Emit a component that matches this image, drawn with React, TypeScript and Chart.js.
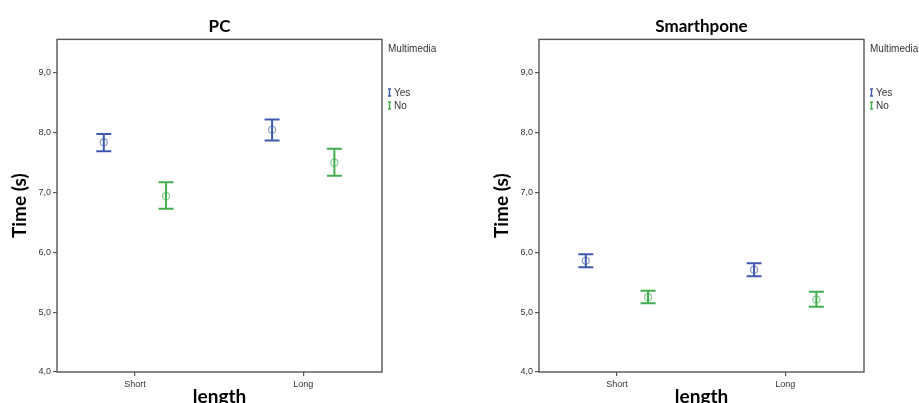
import React, { useEffect, useRef } from "react";
import { Chart, registerables } from "chart.js";

Chart.register(...registerables);

// ---------- data ----------
const CATEGORIES = ["Short", "Long"];
const SERIES_NAMES = ["Yes", "No"];
const LEGEND_TITLE = "Multimedia";

const PC_YES_MEAN = [7.84, 8.05];
const PC_YES_LOW = [7.69, 7.87];
const PC_YES_HIGH = [7.98, 8.22];
const PC_NO_MEAN = [6.94, 7.5];
const PC_NO_LOW = [6.73, 7.28];
const PC_NO_HIGH = [7.17, 7.73];

const SP_YES_MEAN = [5.86, 5.71];
const SP_YES_LOW = [5.75, 5.6];
const SP_YES_HIGH = [5.97, 5.82];
const SP_NO_MEAN = [5.25, 5.21];
const SP_NO_LOW = [5.15, 5.09];
const SP_NO_HIGH = [5.36, 5.34];

const Y_MIN = 4;
const Y_MAX = 9.56;
const Y_STEP = 1;

// ---------- styles ----------
const BLUE = "#3f58ad";
const GREEN = "#43ad4d";
const DODGE = 0.185;
const BOX = "#555555";
const TEXT = "#333333";
const TICK_FONT = { family: "'Liberation Sans', Arial, sans-serif", size: 9 };
const BOLD_FAMILY = "Lato, 'Open Sans', sans-serif";

const errorBarPlugin = {
  id: "errorBars",
  beforeDatasetsDraw(chart: any) {
    const { ctx, scales } = chart;
    const xs = scales.x;
    const ys = scales.y;
    chart.data.datasets.forEach((ds: any) => {
      ctx.save();
      ctx.strokeStyle = ds.barColor;
      ctx.lineWidth = 2;
      ds.data.forEach((p: any, i: number) => {
        const x = xs.getPixelForValue(p.x);
        const yl = ys.getPixelForValue(ds.low[i]);
        const yh = ys.getPixelForValue(ds.high[i]);
        const hw = 7.5;
        ctx.beginPath();
        ctx.moveTo(x, yl);
        ctx.lineTo(x, yh);
        ctx.moveTo(x - hw, yl);
        ctx.lineTo(x + hw, yl);
        ctx.moveTo(x - hw, yh);
        ctx.lineTo(x + hw, yh);
        ctx.stroke();
      });
      ctx.restore();
    });
  },
};

const boxPlugin = {
  id: "boxFrame",
  afterDraw(chart: any) {
    const { ctx, chartArea: a } = chart;
    ctx.save();
    ctx.strokeStyle = BOX;
    ctx.lineWidth = 1.4;
    ctx.strokeRect(a.left, a.top, a.right - a.left, a.bottom - a.top);
    ctx.restore();
  },
};

const legendPlugin = {
  id: "sideLegend",
  afterDraw(chart: any) {
    const { ctx, chartArea: a } = chart;
    const x0 = a.right + 6;
    ctx.save();
    ctx.font = "10px 'Liberation Sans', Arial, sans-serif";
    ctx.fillStyle = TEXT;
    ctx.textBaseline = "middle";
    ctx.textAlign = "left";
    ctx.fillText(LEGEND_TITLE, x0, 49);
    chart.data.datasets.forEach((ds: any, i: number) => {
      const y = 93 + i * 13;
      ctx.strokeStyle = ds.barColor;
      ctx.lineWidth = 1.4;
      ctx.beginPath();
      ctx.moveTo(x0 + 1.5, y - 4);
      ctx.lineTo(x0 + 1.5, y + 3);
      ctx.moveTo(x0, y - 4);
      ctx.lineTo(x0 + 3, y - 4);
      ctx.moveTo(x0, y + 3);
      ctx.lineTo(x0 + 3, y + 3);
      ctx.stroke();
      ctx.fillStyle = TEXT;
      ctx.fillText(ds.label, x0 + 6, y);
    });
    ctx.restore();
  },
};

type Series = { mean: number[]; low: number[]; high: number[] };

function Panel({ title, series, left }: { title: string; series: Series[]; left: number }) {
  const ref = useRef<HTMLCanvasElement | null>(null);
  useEffect(() => {
    if (!ref.current) return;
    const colors = [BLUE, GREEN];
    const offsets = [-DODGE, DODGE];
    const datasets = series.map((s, si) => ({
      label: SERIES_NAMES[si],
      data: s.mean.map((m, ci) => ({ x: ci + 1 + offsets[si], y: m })),
      low: s.low,
      high: s.high,
      barColor: colors[si],
      pointRadius: 3.5,
      pointBorderWidth: 1.2,
      pointBackgroundColor: "rgba(0,0,0,0)",
      pointBorderColor: colors[si] + "99",
      showLine: false,
    }));
    const chart = new Chart(ref.current, {
      type: "scatter",
      data: { datasets } as any,
      plugins: [errorBarPlugin, boxPlugin, legendPlugin],
      options: {
        animation: false,
        responsive: false,
        layout: { padding: { left: 0, right: 78, top: 0, bottom: 0 } },
        plugins: {
          legend: { display: false },
          tooltip: { enabled: false },
          title: {
            display: true,
            text: title,
            fullSize: false,
            color: "#000",
            font: { family: BOLD_FAMILY, size: 17, weight: "bold", lineHeight: 1.2 },
            padding: { top: 16, bottom: 3 },
          },
        },
        scales: {
          x: {
            type: "linear",
            min: 0.537,
            max: 2.468,
            afterBuildTicks: (s: any) => {
              s.ticks = CATEGORIES.map((_, i) => ({ value: i + 1 }));
            },
            afterFit: (s: any) => {
              s.height = 31;
            },
            ticks: {
              autoSkip: false,
              maxRotation: 0,
              padding: 3,
              color: TEXT,
              font: TICK_FONT,
              callback: (v: any) => CATEGORIES[Math.round(v) - 1] ?? "",
            },
            grid: { drawOnChartArea: false, tickLength: 4, color: BOX, lineWidth: 1.2 },
            border: { display: false },
            title: {
              display: true,
              text: "length",
              color: "#000",
              font: { family: BOLD_FAMILY, size: 19, weight: "bold", lineHeight: 0.6 },
              padding: { top: 0, bottom: 0 },
            },
          },
          y: {
            type: "linear",
            min: Y_MIN,
            max: Y_MAX,
            afterFit: (s: any) => {
              s.width = 57;
            },
            ticks: {
              stepSize: Y_STEP,
              includeBounds: false,
              padding: 2,
              color: TEXT,
              font: TICK_FONT,
              callback: (v: any) => Number(v).toFixed(1).replace(".", ","),
            },
            grid: { drawOnChartArea: false, tickLength: 4, color: BOX, lineWidth: 1.2 },
            border: { display: false },
            title: {
              display: true,
              text: "Time (s)",
              color: "#000",
              font: { family: BOLD_FAMILY, size: 19, weight: "bold", lineHeight: 1 },
              padding: { top: 10, bottom: 0 },
            },
          },
        },
      } as any,
    });
    return () => chart.destroy();
  }, []);
  return (
    <canvas
      ref={ref}
      width={460}
      height={403}
      style={{ position: "absolute", left, top: 0, width: 460, height: 403 }}
    />
  );
}

export default function App() {
  const pc: Series[] = [
    { mean: PC_YES_MEAN, low: PC_YES_LOW, high: PC_YES_HIGH },
    { mean: PC_NO_MEAN, low: PC_NO_LOW, high: PC_NO_HIGH },
  ];
  const sp: Series[] = [
    { mean: SP_YES_MEAN, low: SP_YES_LOW, high: SP_YES_HIGH },
    { mean: SP_NO_MEAN, low: SP_NO_LOW, high: SP_NO_HIGH },
  ];
  return (
    <div
      style={{
        position: "fixed",
        left: 0,
        top: 0,
        width: 919,
        height: 403,
        overflow: "hidden",
        background: "#fff",
      }}
    >
      <Panel title="PC" series={pc} left={0} />
      <Panel title="Smarthpone" series={sp} left={482} />
    </div>
  );
}
